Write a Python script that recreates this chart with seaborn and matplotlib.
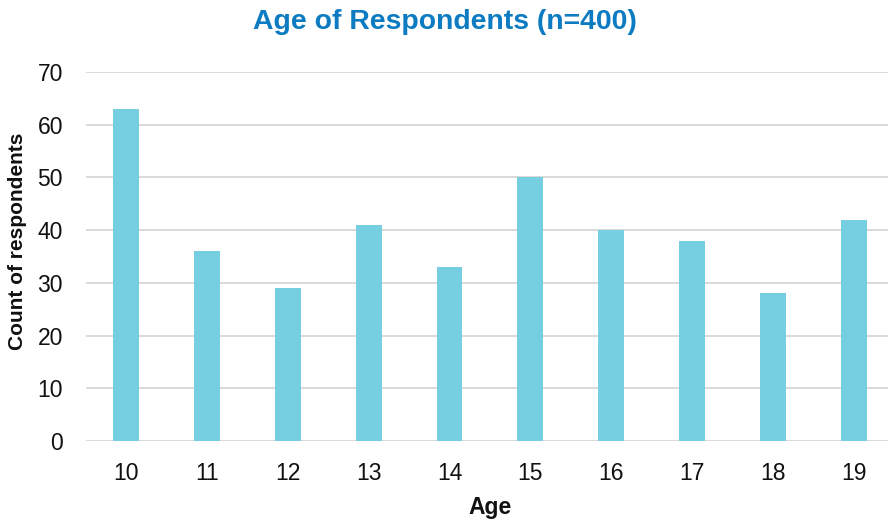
import matplotlib
matplotlib.use("Agg")
import matplotlib.pyplot as plt
import seaborn as sns
import pandas as pd

ages = ["10", "11", "12", "13", "14", "15", "16", "17", "18", "19"]
counts = [63, 36, 29, 41, 33, 50, 40, 38, 28, 42]
y_ticks = [0, 10, 20, 30, 40, 50, 60, 70]

sns.set_theme(style="white")
plt.rcParams["font.family"] = ["Liberation Sans", "DejaVu Sans"]

df = pd.DataFrame({"Age": ages, "Count": counts})

W, H = 888, 520
fig = plt.figure(figsize=(W / 100, H / 100), dpi=100)
ax = fig.add_axes([85.8 / W, 1 - 441 / H, (894 - 85.8) / W, (441 - 72) / H])

sns.barplot(data=df, x="Age", y="Count", color="#75CFE1", saturation=1,
            width=0.32, linewidth=0, ax=ax, zorder=3)

ax.set_ylim(0, 70)
ax.set_yticks(y_ticks)
ax.yaxis.grid(True, color="#D9D9D9", linewidth=1.4, zorder=0)
ax.set_axisbelow(True)
for s in ax.spines.values():
    s.set_visible(False)
ax.tick_params(axis="both", length=0, labelsize=16.5, colors="#111111")
ax.tick_params(axis="y", pad=16.5)
ax.tick_params(axis="x", pad=15)

ax.set_xlabel("Age", fontsize=16.5, fontweight="bold", color="#111111", labelpad=8)
ax.set_ylabel("")
fig.text(17.5 / W, 1 - 241.5 / H, "Count of respondents", rotation=90,
         ha="center", va="center", fontsize=15, fontweight="bold", color="#111111")
fig.text(445 / W, 1 - 22 / H, "Age of Respondents (n=400)", ha="center", va="center",
         fontsize=20.4, fontweight="bold", color="#0C7BC1")

fig.savefig("out.png", dpi=100)
